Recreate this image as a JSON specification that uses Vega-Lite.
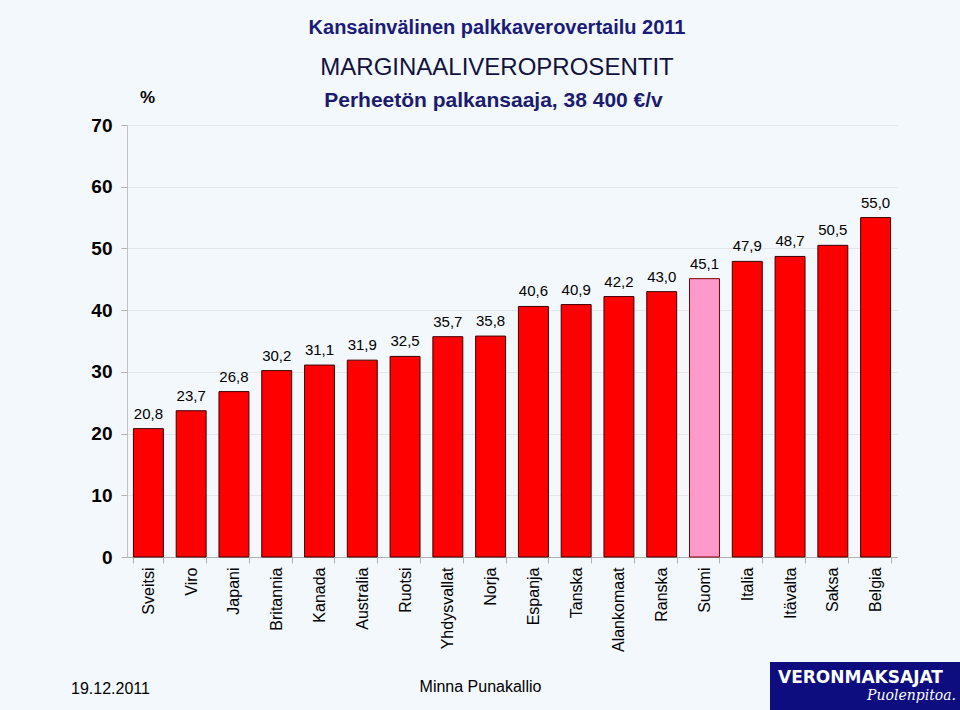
{
  "$schema": "https://vega.github.io/schema/vega-lite/v6.json",
  "width": 770,
  "height": 432,
  "autosize": {"type": "none"},
  "padding": {"left": 127, "top": 125, "right": 63, "bottom": 153},
  "background": "#F3F8FC",
  "title": {
    "text": "Kansainvälinen palkkaverovertailu 2011",
    "subtitle": "MARGINAALIVEROPROSENTIT",
    "anchor": "middle",
    "frame": "group",
    "dx": -15,
    "offset": 8,
    "font": "Liberation Sans",
    "fontSize": 20,
    "fontWeight": "bold",
    "color": "#1B1B7A",
    "subtitleFont": "Liberation Sans",
    "subtitleFontSize": 24,
    "subtitleColor": "#121240",
    "subtitlePadding": 18
  },
  "config": {
    "locale": {"number": {"decimal": ",", "thousands": " ", "grouping": [3], "currency": ["", " €"]}},
    "view": {"stroke": null},
    "font": "Liberation Sans"
  },
  "data": {
    "values": [
      {"maa": "Sveitsi", "arvo": 20.8},
      {"maa": "Viro", "arvo": 23.7},
      {"maa": "Japani", "arvo": 26.8},
      {"maa": "Britannia", "arvo": 30.2},
      {"maa": "Kanada", "arvo": 31.1},
      {"maa": "Australia", "arvo": 31.9},
      {"maa": "Ruotsi", "arvo": 32.5},
      {"maa": "Yhdysvallat", "arvo": 35.7},
      {"maa": "Norja", "arvo": 35.8},
      {"maa": "Espanja", "arvo": 40.6},
      {"maa": "Tanska", "arvo": 40.9},
      {"maa": "Alankomaat", "arvo": 42.2},
      {"maa": "Ranska", "arvo": 43.0},
      {"maa": "Suomi", "arvo": 45.1},
      {"maa": "Italia", "arvo": 47.9},
      {"maa": "Itävalta", "arvo": 48.7},
      {"maa": "Saksa", "arvo": 50.5},
      {"maa": "Belgia", "arvo": 55.0}
    ]
  },
  "layer": [
    {
      "mark": {"type": "bar", "strokeWidth": 1},
      "encoding": {
        "x": {
          "field": "maa", "type": "nominal", "sort": null,
          "scale": {"paddingInner": 0.3, "paddingOuter": 0.15},
          "axis": {
            "orient": "bottom", "labelAngle": -90, "labelFontSize": 16, "labelColor": "#000000",
            "labelPadding": 4, "tickBand": "extent", "tickColor": "#b0b0b0", "tickSize": 6,
            "domainColor": "#b0b0b0", "grid": false,
            "title": "Minna Punakallio", "titleX": 353, "titleY": 129, "titleAlign": "center",
            "titleBaseline": "middle", "titleFontWeight": "normal", "titleFontSize": 16, "titleColor": "#000000"
          }
        },
        "y": {
          "field": "arvo", "type": "quantitative",
          "scale": {"domain": [0, 70]},
          "axis": {
            "orient": "left", "values": [0, 10, 20, 30, 40, 50, 60, 70],
            "labelFontSize": 19, "labelFontWeight": "bold", "labelColor": "#000000", "labelPadding": 9,
            "tickColor": "#b0b0b0", "tickSize": 6, "domainColor": "#c0c0c0", "gridColor": "#e2e7ec",
            "title": "%", "titleAngle": 0, "titleX": 20, "titleY": -28, "titleAlign": "center",
            "titleBaseline": "middle", "titleFontSize": 17, "titleFontWeight": "bold", "titleColor": "#000000"
          }
        },
        "fill": {"condition": {"test": "datum.maa === 'Suomi'", "value": "#FF99CC"}, "value": "#FF0000"},
        "stroke": {"condition": {"test": "datum.maa === 'Suomi'", "value": "#7A0000"}, "value": "#3A0000"}
      }
    },
    {
      "mark": {"type": "text", "baseline": "bottom", "dy": -7, "fontSize": 15, "color": "#000000"},
      "encoding": {
        "x": {
          "field": "maa", "type": "nominal", "sort": null,
          "axis": {
            "orient": "top", "labels": false, "ticks": false, "domain": false, "grid": false,
            "title": "Perheetön palkansaaja, 38 400 €/v", "titleX": 366, "titleY": -25,
            "titleAlign": "center", "titleBaseline": "middle",
            "titleFont": "Liberation Sans", "titleFontSize": 21,
            "titleFontWeight": "bold", "titleColor": "#1B1B70"
          }
        },
        "y": {
          "field": "arvo", "type": "quantitative",
          "axis": {
            "orient": "right", "labels": false, "ticks": false, "domain": false, "grid": false,
            "title": "19.12.2011", "titleAngle": 0, "titleX": -787, "titleY": 563,
            "titleAlign": "center", "titleBaseline": "middle", "titleFontSize": 16,
            "titleFontWeight": "normal", "titleColor": "#000000"
          }
        },
        "text": {"field": "arvo", "type": "quantitative", "format": ".1f"}
      }
    },
    {
      "mark": {"type": "point", "opacity": 0},
      "encoding": {
        "x": {"field": "maa", "type": "nominal", "sort": null, "axis": null},
        "y": {"field": "arvo", "type": "quantitative", "axis": null},
        "shape": {
          "datum": "Puolenpitoa.", "type": "nominal",
          "legend": {
            "title": "VERONMAKSAJAT", "orient": "none", "legendX": 643, "legendY": 537,
            "fillColor": "#0D0D80", "padding": 8, "titleColor": "#FFFFFF", "titleFontSize": 17,
            "titleFont": "DejaVu Sans", "titleFontWeight": "bold", "titlePadding": 2,
            "labelColor": "#FFFFFF", "labelFont": "DejaVu Serif", "labelFontStyle": "italic",
            "labelFontSize": 14, "symbolOpacity": 0, "symbolSize": 0, "labelAlign": "right",
            "labelOffset": 164
          }
        }
      }
    }
  ],
  "resolve": {"axis": {"x": "independent", "y": "independent"}}
}
